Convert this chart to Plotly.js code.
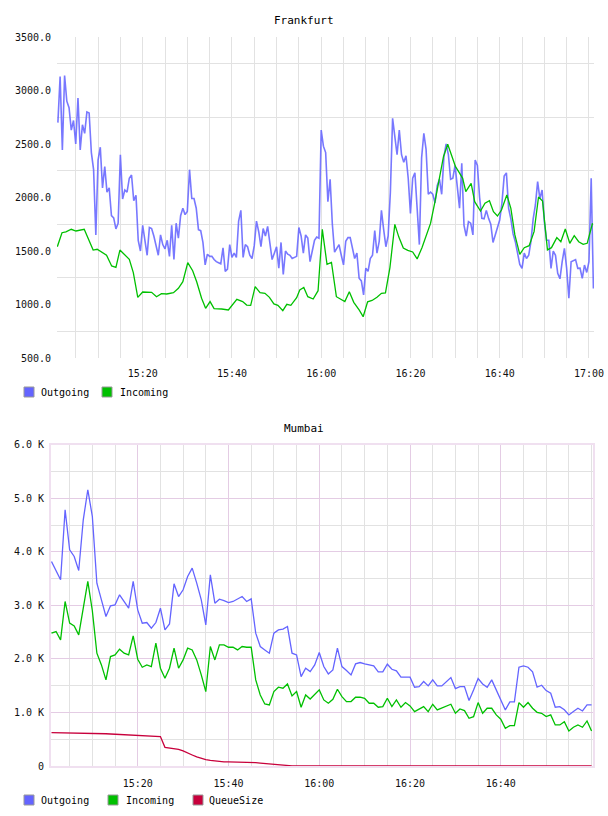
<!DOCTYPE html>
<html>
<head>
<meta charset="utf-8">
<script src="https://cdn.plot.ly/plotly-3.0.1.min.js"></script>
<style>
  html, body { margin: 0; padding: 0; background: #ffffff; }
  #chart { width: 608px; height: 816px; }
</style>
</head>
<body>
<div id="chart"></div>
<script>
// ---- Frankfurt: outgoing sampled every 30 s from 15:01:00 ----
const frankfurtOutStartMin = 1;
const frankfurtOutStepMin = 0.5;
const frankfurtOutgoing = [
  2700,3130,2444,3140,2900,2840,2630,2720,2500,2930,
  2444,2680,2600,2800,2790,2420,2260,1650,2350,2470,
  2090,2290,2050,2090,1830,1810,1706,1760,2400,1986,
  2070,2050,2180,2210,1970,2020,1600,1500,1740,1590,
  1460,1720,1710,1640,1560,1460,1650,1560,1520,1600,
  1450,1740,1420,1760,1620,1830,1900,1840,1870,2260,
  1990,1990,1900,1700,1690,1580,1370,1470,1450,1450,
  1420,1400,1390,1380,1530,1310,1330,1560,1440,1480,
  1440,1780,1880,1440,1560,1540,1460,1430,1550,1780,
  1680,1540,1710,1640,1730,1560,1420,1480,1540,1340,
  1580,1280,1500,1470,1460,1430,1440,1450,1720,1640,
  1480,1650,1620,1400,1500,1600,1630,1620,2630,2480,
  2420,1960,2170,1750,1490,1525,1560,1460,1370,1590,
  1625,1625,1525,1430,1480,1245,1220,1090,1340,1310,
  1430,1460,1690,1480,1590,1880,1700,1540,1640,2050,
  2740,2580,2400,2630,2400,2330,2390,2180,1850,2180,
  2230,1900,1560,2370,2600,2450,2030,2050,2030,1950,
  2110,2170,2030,2380,2500,2400,2170,2180,2300,2100,
  1900,2320,1740,1640,1774,1760,1650,2350,2300,2000,
  1805,1800,1880,1805,1750,1580,1650,1740,1790,1946,
  2200,2230,1899,1800,1660,1587,1463,1375,1338,1480,
  1430,1460,1587,1800,1930,2148,1990,2070,1774,1600,
  1600,1338,1500,1460,1291,1240,1400,1525,1340,1060,
  1400,1407,1420,1338,1340,1245,1369,1300,1400,2180,
  1150
];

// ---- Frankfurt: incoming, minutes after 15:00 and values ----
const frankfurtInMinutes = [
  0.87,1.92,2.8,4.0,5.05,6.9,8.9,9.8,11.9,13.05,
  14.0,14.9,17.0,17.9,18.9,20.0,22.0,23.1,24.2,25.4,
  26.9,28.0,29.0,30.1,31.2,32.1,33.2,34.1,35.1,36.0,
  37.7,39.2,41.1,42.4,43.3,44.2,45.2,46.3,47.4,48.4,
  49.4,50.3,51.4,52.3,53.2,54.5,55.2,56.1,57.0,58.2,
  59.3,60.25,61.3,62.3,63.4,64.4,65.3,66.3,67.3,68.5,
  69.4,70.4,71.4,72.5,73.5,74.4,75.4,76.5,77.4,78.4,
  79.4,80.5,81.5,82.6,83.5,84.5,85.5,86.4,87.4,88.35,
  89.2,90.1,90.8,91.7,92.4,93.0,93.6,94.4,95.2,95.7,
  96.7,97.7,98.6,99.5,100.4,101.6,102.5,103.4,104.5,105.5,
  106.6,107.7,108.7,109.6,110.7,111.6,112.8,113.7,114.7,115.7,
  116.7,117.7,118.7,119.6,120.8
];
const frankfurtIncoming = [
  1540,1671,1678,1703,1687,1703,1509,1516,1460,1360,
  1347,1509,1422,1298,1067,1117,1114,1073,1101,1098,
  1111,1151,1213,1391,1316,1213,1058,964,1027,961,
  958,949,1048,1027,995,992,1167,1111,1104,1067,
  1005,992,942,1002,992,1064,1136,1160,1073,1051,
  1129,1702,1376,1394,1073,1048,1027,1120,1020,949,
  886,1025,1038,1068,1104,1108,1345,1749,1630,1528,
  1506,1491,1426,1532,1650,1758,1961,2148,2382,2497,
  2397,2288,2241,2179,2055,2092,2132,1961,1905,1874,
  1946,1970,1868,1827,1883,2024,1899,1650,1469,1531,
  1550,1681,2005,1967,1510,1531,1625,1587,1706,1572,
  1643,1587,1562,1572,1759
];

// ---- Mumbai: one sample per minute from 15:01 ----
const mumbaiStartMin = 1;
const mumbaiStepMin = 1;
const mumbaiOutgoing = [
  3819,3632,3477,4785,4037,3913,3651,4598,5159,4660,
  3414,3103,2791,2991,3009,3196,3072,2947,3446,2916,
  2667,2679,2573,2679,2947,2542,2654,3402,3165,3290,
  3539,3695,3414,3103,2636,3570,3041,3115,3090,3053,
  3072,3115,3165,3072,3122,2480,2231,2168,2106,2480,
  2542,2555,2604,2106,2075,1670,1826,1763,1888,2119,
  1857,1720,1795,2200,1857,1782,1701,1907,1932,1907,
  1882,1869,1757,1757,1901,1807,1776,1658,1658,1658,
  1471,1483,1577,1496,1608,1496,1496,1583,1651,1446,
  1483,1483,1222,1421,1633,1533,1471,1608,1421,1265,
  1047,1197,1197,1844,1869,1844,1757,1471,1508,1408,
  1358,1097,1109,1050,954,1016,1078,1028,1140,1140
];
const mumbaiIncoming = [
  2480,2511,2355,3072,2667,2617,2449,2950,3446,2900,
  2106,1888,1608,2044,2075,2181,2106,2075,2430,1994,
  1844,1888,1857,2293,1826,1639,1826,2200,1826,1981,
  2200,2168,1981,1701,1390,2231,1981,2262,2262,2218,
  2218,2168,2231,2218,2218,1608,1327,1159,1140,1390,
  1471,1452,1533,1309,1390,1097,1327,1250,1327,1421,
  1234,1172,1246,1433,1296,1203,1203,1284,1284,1265,
  1172,1172,1097,1109,1265,1109,1234,1097,1184,1122,
  1016,1066,1109,1016,1153,1047,1078,1122,1153,985,
  1066,1035,891,922,1184,985,1078,1078,954,873,
  704,754,754,1184,1097,1184,1078,1003,985,922,
  954,767,767,829,655,723,767,723,841,655
];
const mumbaiQueueSize = [
  623,622,621,620,619,618,618,617,617,612,
  609,606,602,598,594,589,584,578,572,567,
  562,557,554,551,549,349,340,332,312,281,
  250,206,169,137,119,105,94,85,78,77,
  76,74,72,69,66,62,55,47,38,28,
  17,10,6,2,0,0,0,0,0,0,
  0,0,0,0,0,0,0,0,0,0,
  0,0,0,0,0,0,0,0,0,0,
  0,0,0,0,0,0,0,0,0,0,
  0,0,0,0,0,0,0,0,0,0,
  0,0,0,0,0,0,0,0,0,0,
  0,0,0,0,0,0,0,0,0,0
];

// ---- axis labels ----
const frankfurtTimeTicks = ['15:20','15:40','16:00','16:20','16:40','17:00'];
const mumbaiTimeTicks = ['15:20','15:40','16:00','16:20','16:40'];
const frankfurtValueTicks = [500,1000,1500,2000,2500,3000,3500];
const frankfurtValueLabels = ['500.0','1000.0','1500.0','2000.0','2500.0','3000.0','3500.0'];
const mumbaiValueTicks = [0,1000,2000,3000,4000,5000,6000];
const mumbaiValueLabels = ['0','1.0 K','2.0 K','3.0 K','4.0 K','5.0 K','6.0 K'];

const seriesNames = ['Outgoing','Incoming','QueueSize'];
const seriesColors = ['#6464ff','#00c000','#c8003c'];

// ---- time helpers ----
const DAY = '2012-06-05';
const BASE_MS = Date.UTC(2012, 5, 5, 15, 0, 0);
function atMinute(m) {
  return new Date(BASE_MS + Math.round(m * 60000)).toISOString().replace('T', ' ').replace('Z', '');
}
function clockToTime(hhmm) { return DAY + ' ' + hhmm + ':00'; }
function regularTimes(n, start, step) {
  const out = [];
  for (let i = 0; i < n; i++) out.push(atMinute(start + i * step));
  return out;
}

// five-minute grid positions (15:00 .. 17:05)
const fiveMinuteGrid = [];
for (let m = 0; m <= 125; m += 5) fiveMinuteGrid.push(atMinute(m));

const W = 608, H = 816;
const px = x => x / W;
const py = y => 1 - y / H;

const FONT = 'DejaVu Sans Mono, monospace';
const GRID = '#e2e2e2';
const MAJOR = '#e4cce4';

const mumbaiTimes = regularTimes(mumbaiOutgoing.length, mumbaiStartMin, mumbaiStepMin);

const traces = [
  {
    x: regularTimes(frankfurtOutgoing.length, frankfurtOutStartMin, frankfurtOutStepMin),
    y: frankfurtOutgoing, xaxis: 'x', yaxis: 'y', type: 'scatter', mode: 'lines',
    name: seriesNames[0], line: { color: 'rgba(96,96,255,0.85)', width: 1.6 }, showlegend: false
  },
  {
    x: frankfurtInMinutes.map(atMinute),
    y: frankfurtIncoming, xaxis: 'x', yaxis: 'y', type: 'scatter', mode: 'lines',
    name: seriesNames[1], line: { color: seriesColors[1], width: 1.3 }, showlegend: false
  },
  {
    x: mumbaiTimes, y: mumbaiOutgoing, xaxis: 'x2', yaxis: 'y2', type: 'scatter', mode: 'lines',
    name: seriesNames[0], line: { color: seriesColors[0], width: 1.3 }, showlegend: false
  },
  {
    x: mumbaiTimes, y: mumbaiIncoming, xaxis: 'x2', yaxis: 'y2', type: 'scatter', mode: 'lines',
    name: seriesNames[1], line: { color: seriesColors[1], width: 1.3 }, showlegend: false
  },
  {
    x: mumbaiTimes, y: mumbaiQueueSize, xaxis: 'x2', yaxis: 'y2', type: 'scatter', mode: 'lines',
    name: seriesNames[2], line: { color: seriesColors[2], width: 1.3 }, showlegend: false
  }
];

// legend swatches and labels drawn under each panel
const shapes = [];
const annotations = [];
function legendRow(names, yCenter, swatchX, textX) {
  names.forEach((nm, i) => {
    const ci = seriesNames.indexOf(nm);
    shapes.push({
      type: 'rect', xref: 'paper', yref: 'paper',
      x0: px(swatchX[i]), x1: px(swatchX[i] + 10),
      y0: py(yCenter + 5), y1: py(yCenter - 5),
      fillcolor: seriesColors[ci], line: { color: '#999999', width: 1 }
    });
    annotations.push({
      xref: 'paper', yref: 'paper', x: px(textX[i]), y: py(yCenter),
      xanchor: 'left', yanchor: 'middle', showarrow: false, text: nm,
      font: { family: FONT, size: 10, color: '#000000' }
    });
  });
}
legendRow(['Outgoing','Incoming'], 392, [24, 102], [39, 118]);
legendRow(['Outgoing','Incoming','QueueSize'], 800, [24, 108, 193], [39, 124, 207]);

annotations.push({
  xref: 'paper', yref: 'paper', x: 0.5, y: py(20), xanchor: 'center', yanchor: 'middle',
  showarrow: false, text: 'Frankfurt', font: { family: FONT, size: 11, color: '#000000' }
});
annotations.push({
  xref: 'paper', yref: 'paper', x: 0.5, y: py(428), xanchor: 'center', yanchor: 'middle',
  showarrow: false, text: 'Mumbai', font: { family: FONT, size: 11, color: '#000000' }
});

const tickFont = { family: FONT, size: 10, color: '#111111' };

const layout = {
  width: W, height: H,
  margin: { l: 0, r: 0, t: 0, b: 0 },
  paper_bgcolor: '#ffffff', plot_bgcolor: '#ffffff',
  font: { family: FONT, size: 10, color: '#111111' },
  showlegend: false,
  xaxis: {
    domain: [px(57), px(594)], anchor: 'y', type: 'date',
    range: [atMinute(0.8), atMinute(121.13)],
    tickmode: 'array', tickvals: frankfurtTimeTicks.map(clockToTime), ticktext: frankfurtTimeTicks,
    showgrid: true, gridcolor: GRID, gridwidth: 1, zeroline: false, showline: false, ticks: '',
    ticklabelstandoff: 8,
    minor: { tickmode: 'array', tickvals: fiveMinuteGrid, showgrid: true, gridcolor: GRID, gridwidth: 1, ticks: '' },
    tickfont: tickFont
  },
  yaxis: {
    domain: [py(358), py(37)], anchor: 'x',
    range: [500, 3500],
    tickmode: 'array', tickvals: frankfurtValueTicks, ticktext: frankfurtValueLabels,
    showgrid: false, zeroline: false, showline: false, ticks: '',
    ticklabelstandoff: 5,
    minor: { tickmode: 'linear', tick0: 250, dtick: 500, showgrid: true, gridcolor: GRID, gridwidth: 1, ticks: '' },
    tickfont: tickFont
  },
  xaxis2: {
    domain: [px(51), px(592.7)], anchor: 'y2', type: 'date',
    range: [atMinute(0.89), atMinute(120.25)],
    tickmode: 'array', tickvals: mumbaiTimeTicks.map(clockToTime), ticktext: mumbaiTimeTicks,
    showgrid: true, gridcolor: MAJOR, gridwidth: 1, zeroline: false, ticks: '',
    ticklabelstandoff: 7,
    showline: true, mirror: true, linecolor: '#f0e0f0', linewidth: 2,
    minor: { tickmode: 'array', tickvals: fiveMinuteGrid, showgrid: true, gridcolor: GRID, gridwidth: 1, ticks: '' },
    tickfont: tickFont
  },
  yaxis2: {
    domain: [py(766), py(444.7)], anchor: 'x2',
    range: [0, 6000],
    tickmode: 'array', tickvals: mumbaiValueTicks, ticktext: mumbaiValueLabels,
    showgrid: true, gridcolor: MAJOR, gridwidth: 1, zeroline: false, ticks: '',
    ticklabelstandoff: 3,
    showline: true, mirror: true, linecolor: '#f0e0f0', linewidth: 2,
    minor: { tickmode: 'linear', tick0: 500, dtick: 1000, showgrid: true, gridcolor: GRID, gridwidth: 1, ticks: '' },
    tickfont: tickFont
  },
  shapes: shapes,
  annotations: annotations
};

Plotly.newPlot('chart', traces, layout, { staticPlot: true, displayModeBar: false });
</script>
</body>
</html>
